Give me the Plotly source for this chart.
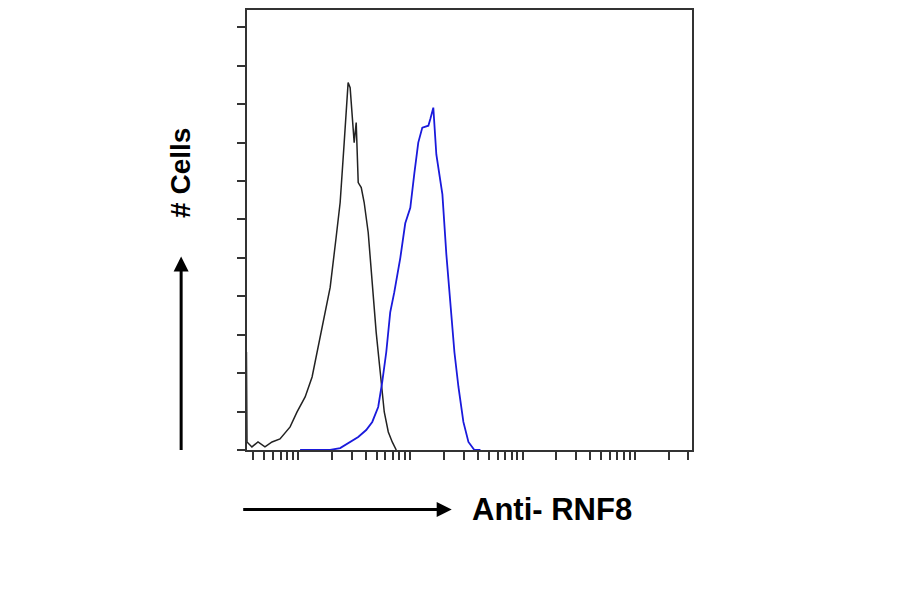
import numpy as np
import plotly.graph_objects as go

# log10 fluorescence intensity and cell counts
ctrl_log = [0.54,0.545,0.589,0.643,0.705,0.768,0.839,0.929,0.991,1.063,1.125,1.179,1.241,1.286,1.339,1.375,1.411,1.429,1.446,1.464,1.482,1.5,1.518,1.536,1.563,1.589,1.625,1.661,1.696,1.732,1.768,1.804,1.839,1.875]
ctrl_cnt = [2.55,0.21,0.08,0.21,0.08,0.21,0.29,0.6,0.99,1.38,1.9,2.68,3.58,4.23,5.53,6.44,8.0,8.91,9.56,9.43,8.78,8.0,8.52,6.96,6.83,6.44,5.66,4.36,3.06,2.03,0.99,0.47,0.21,0]
rnf_log = [1.018,1.286,1.375,1.464,1.536,1.607,1.661,1.714,1.75,1.786,1.821,1.857,1.911,1.955,2.0,2.036,2.071,2.107,2.161,2.179,2.205,2.232,2.25,2.286,2.321,2.357,2.393,2.429,2.473,2.518,2.571,2.625]
rnf_cnt = [0,0,0.05,0.21,0.34,0.52,0.73,1.12,1.77,2.55,3.58,4.1,5.0,5.9,6.3,7.2,8.0,8.39,8.44,8.62,8.91,7.69,7.3,6.65,5.1,3.84,2.55,1.64,0.73,0.21,0,0]
y_ticks = list(range(0, 12))

fig = go.Figure()
fig.add_trace(go.Scatter(x=10**np.array(ctrl_log), y=ctrl_cnt, mode="lines",
                         line=dict(color="#222222", width=1.5)))
fig.add_trace(go.Scatter(x=10**np.array(rnf_log), y=rnf_cnt, mode="lines",
                         line=dict(color="#1a1adc", width=1.8)))

xt = [m*10**d for d in range(0, 5) for m in range(1, 10)]
fig.update_xaxes(type="log", range=[0.545, 4.51], showgrid=False, zeroline=False,
                 showline=True, linecolor="#333", linewidth=2, mirror=True,
                 tickvals=xt, ticktext=[""]*len(xt), ticks="outside", ticklen=8,
                 tickcolor="#333", tickwidth=2)
fig.update_yaxes(range=[0, 11.45], showgrid=False, zeroline=False,
                 showline=True, linecolor="#333", linewidth=2, mirror=True,
                 tickvals=y_ticks, ticktext=[""]*len(y_ticks), ticks="outside",
                 ticklen=8, tickcolor="#333", tickwidth=2)
fig.update_layout(width=900, height=594, showlegend=False,
                  plot_bgcolor="white", paper_bgcolor="white",
                  margin=dict(l=239, r=216, t=2, b=152, autoexpand=False))
fig.add_annotation(xref="paper", yref="paper", x=-0.148, y=0.63, text="<b># Cells</b>",
                   textangle=-90, showarrow=False, xanchor="center", yanchor="middle",
                   font=dict(family="Liberation Sans", size=28, color="black"))
fig.add_annotation(xref="paper", yref="paper", x=-0.148, y=0.44, ax=0, ay=195,
                   text="", showarrow=True, arrowhead=2, arrowsize=1, arrowwidth=3,
                   arrowcolor="black")
fig.add_annotation(xref="paper", yref="paper", x=0.46, y=-0.135, ax=-210, ay=0,
                   text="", showarrow=True, arrowhead=2, arrowsize=1, arrowwidth=3,
                   arrowcolor="black")
fig.add_annotation(xref="paper", yref="paper", x=0.5, y=-0.135, text="<b>Anti- RNF8</b>",
                   showarrow=False, xanchor="left", yanchor="middle",
                   font=dict(family="Liberation Sans", size=31, color="black"))
fig.write_html("out.html")
